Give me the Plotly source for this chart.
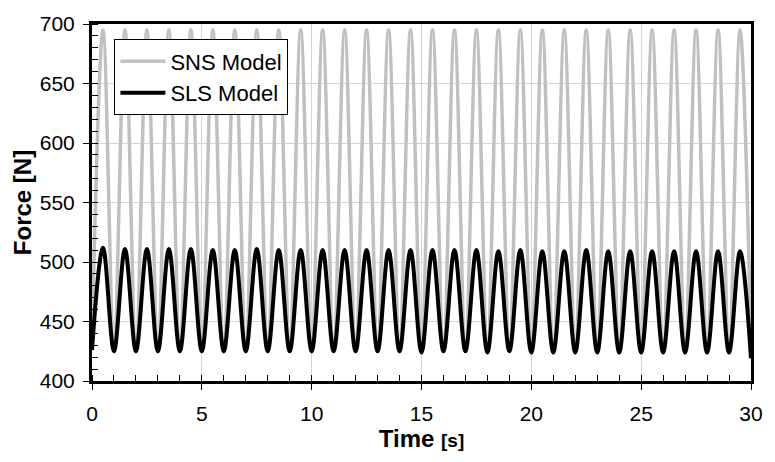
import plotly.graph_objects as go

# Sample times (s): start, then alternating peak / trough instants
time_s = [0.0, 0.5, 1.0, 1.5, 2.0, 2.5, 3.0, 3.5, 4.0, 4.5, 5.0, 5.5, 6.0, 6.5, 7.0, 7.5,
          8.0, 8.5, 9.0, 9.5, 10.0, 10.5, 11.0, 11.5, 12.0, 12.5, 13.0, 13.5, 14.0, 14.5,
          15.0, 15.5, 16.0, 16.5, 17.0, 17.5, 18.0, 18.5, 19.0, 19.5, 20.0, 20.5, 21.0,
          21.5, 22.0, 22.5, 23.0, 23.5, 24.0, 24.5, 25.0, 25.5, 26.0, 26.5, 27.0, 27.5,
          28.0, 28.5, 29.0, 29.5, 30.0]

# SNS model force (N), read at the same instants
sns_force = [432, 695, 431, 695, 431, 695, 431, 695, 431, 695, 431, 695, 431, 695, 431, 695,
             431, 695, 431, 695, 431, 695, 431, 695, 431, 695, 431, 695, 431, 695,
             431, 695, 431, 695, 431, 695, 431, 695, 431, 695, 431, 695, 431,
             695, 431, 695, 431, 695, 431, 695, 431, 695, 431, 695, 431, 695,
             431, 695, 431, 695, 428]

# SLS model force (N), read at the same instants
sls_force = [426, 512, 425, 511, 425, 511, 425, 511, 425, 511, 425, 510, 425, 510, 425, 511,
             425, 510, 425, 510, 425, 510, 425, 510, 425, 510, 425, 510, 425, 510,
             424, 510, 425, 510, 425, 510, 424, 509, 425, 510, 424, 509, 424,
             509, 424, 510, 424, 509, 424, 509, 424, 509, 424, 509, 424, 509,
             424, 509, 424, 509, 419]

x_ticks = [0, 5, 10, 15, 20, 25, 30]
y_ticks = [400, 450, 500, 550, 600, 650, 700]

FONT = "Arial, Liberation Sans, sans-serif"

fig = go.Figure()
fig.add_trace(go.Scatter(x=time_s, y=sns_force, mode="lines", name="SNS Model",
                         line=dict(color="#c0c0c0", width=3.5, shape="spline", smoothing=1)))
fig.add_trace(go.Scatter(x=time_s, y=sls_force, mode="lines", name="SLS Model",
                         line=dict(color="#000000", width=4, shape="spline", smoothing=1)))

axis_common = dict(
    showline=True, linecolor="black", linewidth=3, mirror=True,
    showgrid=True, gridcolor="#d4d4d4", gridwidth=1,
    ticks="outside", ticklen=6, tickwidth=1, tickcolor="black",
    tickfont=dict(family=FONT, size=21, color="black"),
    zeroline=False,
)

fig.update_layout(
    width=775, height=462,
    margin=dict(l=92, r=14, t=18, b=81),
    paper_bgcolor="white", plot_bgcolor="white",
    font=dict(family=FONT, color="black"),
    xaxis=dict(range=[0, 30], tickvals=x_ticks, ticklabelstandoff=6,
               minor=dict(ticks="inside", dtick=1, ticklen=6, tickcolor="black", showgrid=False),
               title=dict(text="<b>Time <span style='font-size:19px'>[s]</span></b>",
                          font=dict(family=FONT, size=24), standoff=6),
               **axis_common),
    yaxis=dict(range=[400, 700], tickvals=y_ticks, ticklabelstandoff=4,
               minor=dict(ticks="inside", dtick=10, ticklen=6, tickcolor="black", showgrid=False),
               title=dict(text="<b>Force [N]</b>", font=dict(family=FONT, size=24), standoff=2),
               **axis_common),
    legend=dict(x=0.034, y=0.957, xanchor="left", yanchor="top",
                bgcolor="white", bordercolor="black", borderwidth=1,
                font=dict(family=FONT, size=22, color="black"),
                itemwidth=45, tracegroupgap=0),
    showlegend=True,
)

fig.write_html("out.html")
